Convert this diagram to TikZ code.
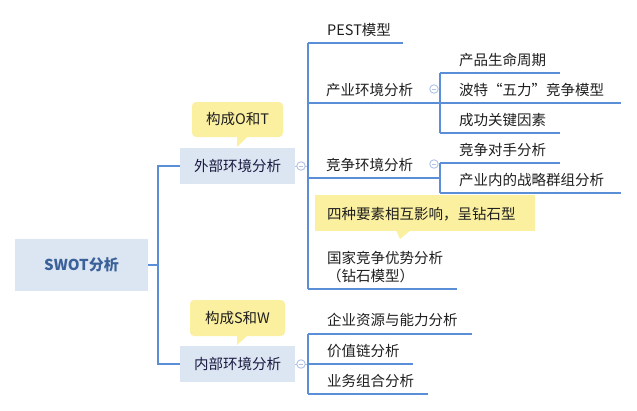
\documentclass[tikz,border=0pt]{standalone}
\usepackage{fontspec}
\setmainfont{Noto Sans CJK SC}
\usetikzlibrary{positioning}
\definecolor{linec}{HTML}{5A8FD8}
\definecolor{boxc}{HTML}{DCE6F2}
\definecolor{yel}{HTML}{FBEFA0}
\definecolor{rootc}{HTML}{3A6199}
\definecolor{circc}{HTML}{AFC3E6}
\definecolor{txtc}{HTML}{1E1E1E}
\tikzset{
  conn/.style={draw=linec, line width=1.2pt},
  softconn/.style={draw=circc, line width=1pt},
  rootbox/.style={fill=boxc, minimum width=133pt, minimum height=52pt, inner sep=0pt, text=rootc, font=\fontsize{15pt}{18pt}\selectfont\bfseries},
  subbox/.style={fill=boxc, minimum width=115pt, minimum height=36pt, inner sep=0pt, text=txtc!85!blue, font=\fontsize{14.5pt}{17pt}\selectfont},
  leaf/.style={anchor=west, inner sep=0pt, text=txtc, font=\fontsize{14.5pt}{17pt}\selectfont},
  callout/.style={fill=yel, rounded corners=4pt, inner sep=0pt, text=txtc, font=\fontsize{14.5pt}{17pt}\selectfont},
  tog/.style={circle, draw=circc, fill=white, line width=0.9pt, minimum size=8.5pt, inner sep=0pt,
    path picture={\draw[circc, line width=0.9pt] ([xshift=-2.3pt]path picture bounding box.center) -- ([xshift=2.3pt]path picture bounding box.center);}}
}
\begin{document}
\begin{tikzpicture}[x=1pt,y=-1pt]
\useasboundingbox (0,0) rectangle (637,410);
% main boxes
\node[rootbox] (root) at (81.5,265) {SWOT分析};
\node[subbox] (ext) at (237.5,166) {外部环境分析};
\node[subbox] (int) at (237.5,364) {内部环境分析};
\coordinate (j0) at (158,265);
\draw[conn] (root.east) -- (j0);
\draw[conn] (ext.west) -| (j0) |- (int.west);
% callouts
\node[callout, minimum width=91pt, minimum height=35pt] (cOT) at (237.5,119.5) {构成O和T};
\fill[yel] (237,136) -- (248,136) -- (237,147) -- cycle;
\node[callout, minimum width=95pt, minimum height=36pt] (cSW) at (237.5,318) {构成S和W};
\fill[yel] (237,335) -- (248,335) -- (237,345) -- cycle;
% external branches
\coordinate (v1t) at (308,43);
\coordinate (v1b) at (308,289);
\coordinate (j1) at (308,166);
\draw[softconn] (ext.east) -- (j1);
\draw[conn] (v1t) -- (v1b);
\node[leaf] (pest) at (327,30) {PEST模型};
\draw[conn] (v1t) -- (403,43);
\node[leaf] (ind) at (326,90) {产业环境分析};
\draw[conn] (308,103) -- (621,103);
\node[leaf] (comp) at (326,165) {竞争环境分析};
\draw[conn] (308,178) -- (440,178);
\node[leaf, align=left, text depth=0pt] (nat) at (327,266.5) {国家竞争优势分析\\[1pt]（钻石模型）};
\draw[conn] (v1b) -- (457,289);
% diamond callout
\node[fill=yel, minimum width=220pt, minimum height=36pt, inner sep=0pt] (cD) at (425,213) {};
\fill[yel] (396,230) -- (411,230) -- (400,239) -- cycle;
\node[leaf] (dtext) at (327,214) {四种要素相互影响，呈钻石型};
% industry children
\draw[conn] (440,73) -- (440,133);
\draw[conn] (440,73) -- (560,73);
\draw[conn] (440,133) -- (560,133);
\node[leaf] (plc) at (459,60) {产品生命周期};
\node[leaf] (five) at (459,90) {波特“五力”竞争模型};
\node[leaf] (ksf) at (459,120) {成功关键因素};
% competition children
\draw[conn] (440,163) -- (440,193);
\draw[conn] (440,163) -- (560,163);
\draw[conn] (440,193) -- (621,193);
\node[leaf] (rival) at (459,150) {竞争对手分析};
\node[leaf] (group) at (459,180) {产业内的战略群组分析};
% internal branches
\coordinate (v2t) at (308,334);
\coordinate (v2b) at (308,394);
\coordinate (j2) at (308,364);
\draw[softconn] (int.east) -- (j2);
\draw[conn] (v2t) -- (v2b);
\draw[conn] (v2t) -- (472,334);
\draw[conn] (j2) -- (413,364);
\draw[conn] (v2b) -- (428,394);
\node[leaf] (res) at (327,320) {企业资源与能力分析};
\node[leaf] (vc) at (327,351) {价值链分析};
\node[leaf] (port) at (327,381) {业务组合分析};
% toggles
\node[tog] (t1) at (301,166) {};
\node[tog] (t2) at (301,364) {};
\node[tog] (t3) at (434,89) {};
\node[tog] (t4) at (434,164) {};
\end{tikzpicture}
\end{document}
